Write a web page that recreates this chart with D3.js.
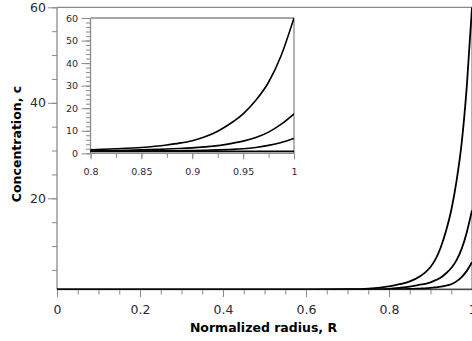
<!DOCTYPE html>
<html>
<head>
<meta charset="utf-8">
<script src="https://cdn.jsdelivr.net/npm/d3@7"></script>
<style>
  body { margin: 0; background: #fff; overflow: hidden; }
  svg { display: block; }
  text { font-family: "DejaVu Sans", sans-serif; }
</style>
</head>
<body>
<script>
// radius samples and concentration curves
var radius = [0, 0.2, 0.4, 0.6, 0.7, 0.75, 0.8, 0.825, 0.85, 0.875, 0.8875, 0.9, 0.9125, 0.925, 0.9375, 0.95, 0.9625, 0.975, 0.9875, 1];
var conc1  = [0.85, 0.85, 0.85, 0.87, 0.95, 1.1, 1.55, 2.0, 2.6, 3.7, 4.5, 5.6, 7.3, 9.8, 13.2, 17.5, 23.5, 31.5, 43.5, 60];
var conc2  = [0.85, 0.85, 0.85, 0.85, 0.87, 0.9, 1.05, 1.25, 1.5, 1.9, 2.1, 2.4, 2.85, 3.4, 4.3, 5.4, 7.0, 9.4, 12.9, 17.5];
var conc3  = [0.85, 0.85, 0.85, 0.85, 0.85, 0.86, 0.9, 0.95, 1.0, 1.1, 1.15, 1.22, 1.35, 1.5, 1.7, 2.0, 2.6, 3.5, 4.8, 6.6];
var conc4  = [0.85, 0.85, 0.85, 0.85, 0.85, 0.85, 0.85, 0.85, 0.85, 0.85, 0.85, 0.85, 0.85, 0.85, 0.85, 0.85, 0.85, 0.85, 0.85, 0.85];
var series = [conc1, conc2, conc3, conc4];

var mainXLabels = [0, 0.2, 0.4, 0.6, 0.8, 1];
var mainYLabels = [20, 40, 60];
var insetXLabels = [0.8, 0.85, 0.9, 0.95, 1];
var insetYLabels = [0, 10, 20, 30, 40, 50, 60];

var width = 472, height = 341;
var AXIS = "#8a8a8a", LABEL = "#2a2a35";

var svg = d3.select("body").append("svg")
	.attr("width", width)
	.attr("height", height);

function stepValues(a, b, step) {
	var n = Math.round((b - a) / step), out = [];
	for (var i = 0; i <= n; i++) out.push(+(a + i * step).toFixed(4));
	return out;
}

function fmt(d) { return String(+d.toFixed(3)); }

function drawPanel(g, x, y, opt) {
	var xr = x.range(), yr = y.range();
	var clipId = "clip" + opt.id;
	g.append("clipPath").attr("id", clipId)
		.append("rect")
		.attr("x", xr[0]).attr("y", yr[1])
		.attr("width", xr[1] - xr[0]).attr("height", yr[0] - yr[1]);

	if (opt.fill) {
		g.append("rect")
			.attr("x", xr[0]).attr("y", yr[1])
			.attr("width", xr[1] - xr[0]).attr("height", yr[0] - yr[1])
			.attr("fill", "#fff");
	}

	// minor ticks
	var xMinor = g.append("g").attr("transform", "translate(0," + yr[0] + ")")
		.call(d3.axisBottom(x).tickValues(opt.xMinor).tickSize(opt.xMinorLen).tickFormat(""));
	var yMinor = g.append("g").attr("transform", "translate(" + xr[0] + ",0)")
		.call(d3.axisLeft(y).tickValues(opt.yMinor).tickSize(opt.yMinorLen).tickFormat(""));

	// major ticks with labels
	var xMajor = g.append("g").attr("transform", "translate(0," + yr[0] + ")")
		.call(d3.axisBottom(x).tickValues(opt.xLabels).tickSize(opt.xMajorLen).tickPadding(opt.xPad).tickFormat(fmt));
	var yMajor = g.append("g").attr("transform", "translate(" + xr[0] + ",0)")
		.call(d3.axisLeft(y).tickValues(opt.yLabels).tickSize(opt.yMajorLen).tickPadding(opt.yPad).tickFormat(fmt));

	[xMinor, yMinor, xMajor, yMajor].forEach(function(a) {
		a.select(".domain").remove();
		a.selectAll("line").attr("stroke", AXIS);
		a.selectAll("text")
			.attr("fill", LABEL)
			.style("font-size", opt.fontSize + "px");
	});

	// frame lines
	var frame = g.append("g").attr("stroke", AXIS).attr("stroke-width", 1.3).attr("fill", "none");
	frame.append("line").attr("x1", xr[0]).attr("x2", xr[1]).attr("y1", yr[0]).attr("y2", yr[0]);
	frame.append("line").attr("x1", xr[0]).attr("x2", xr[0]).attr("y1", yr[0]).attr("y2", yr[1]);
	frame.append("line").attr("x1", xr[0]).attr("x2", xr[1]).attr("y1", yr[1]).attr("y2", yr[1]);
	frame.append("line").attr("x1", xr[1]).attr("x2", xr[1]).attr("y1", yr[0]).attr("y2", yr[1]);

	var line = d3.line()
		.x(function(d) { return x(d[0]); })
		.y(function(d) { return y(d[1]); })
		.curve(d3.curveMonotoneX);

	g.append("g").attr("clip-path", "url(#" + clipId + ")")
		.selectAll("path")
		.data(series)
		.enter().append("path")
		.attr("d", function(s) { return line(radius.map(function(r, i) { return [r, s[i]]; })); })
		.attr("fill", "none")
		.attr("stroke", "#000")
		.attr("stroke-width", opt.lineWidth);
}

// main plot
var xMain = d3.scaleLinear().domain([0, 1]).range([57, 472]);
var yMain = d3.scaleLinear().domain([0.9, 60]).range([289.5, 7.3]);

drawPanel(svg.append("g"), xMain, yMain, {
	id: "main",
	xMinor: stepValues(0, 1, 0.05),
	yMinor: stepValues(5, 60, 5),
	xLabels: mainXLabels,
	yLabels: mainYLabels,
	xMinorLen: 5, xMajorLen: 7.5,
	yMinorLen: 5, yMajorLen: 9,
	xPad: 8, yPad: 2,
	fontSize: 12.5,
	lineWidth: 1.8
});

svg.append("text")
	.attr("x", xMain(0.5) - 1)
	.attr("y", 332)
	.attr("text-anchor", "middle")
	.attr("font-weight", "bold")
	.attr("font-size", 12.5)
	.attr("fill", "#000")
	.text("Normalized radius, R");

svg.append("text")
	.attr("transform", "translate(20.5,144) rotate(-90)")
	.attr("text-anchor", "middle")
	.attr("font-weight", "bold")
	.attr("font-size", 12.5)
	.attr("fill", "#000")
	.text("Concentration, c");

// inset
var xIn = d3.scaleLinear().domain([0.8, 1]).range([90.5, 294]);
var yIn = d3.scaleLinear().domain([0, 60]).range([153.3, 18]);

drawPanel(svg.append("g"), xIn, yIn, {
	id: "inset",
	fill: true,
	xMinor: stepValues(0.8, 1, 0.025),
	yMinor: stepValues(0, 60, 2),
	xLabels: insetXLabels,
	yLabels: insetYLabels,
	xMinorLen: 4.5, xMajorLen: 6,
	yMinorLen: 4.5, yMajorLen: 9,
	xPad: 9, yPad: 3.5,
	fontSize: 9.5,
	lineWidth: 1.6
});
</script>
</body>
</html>
